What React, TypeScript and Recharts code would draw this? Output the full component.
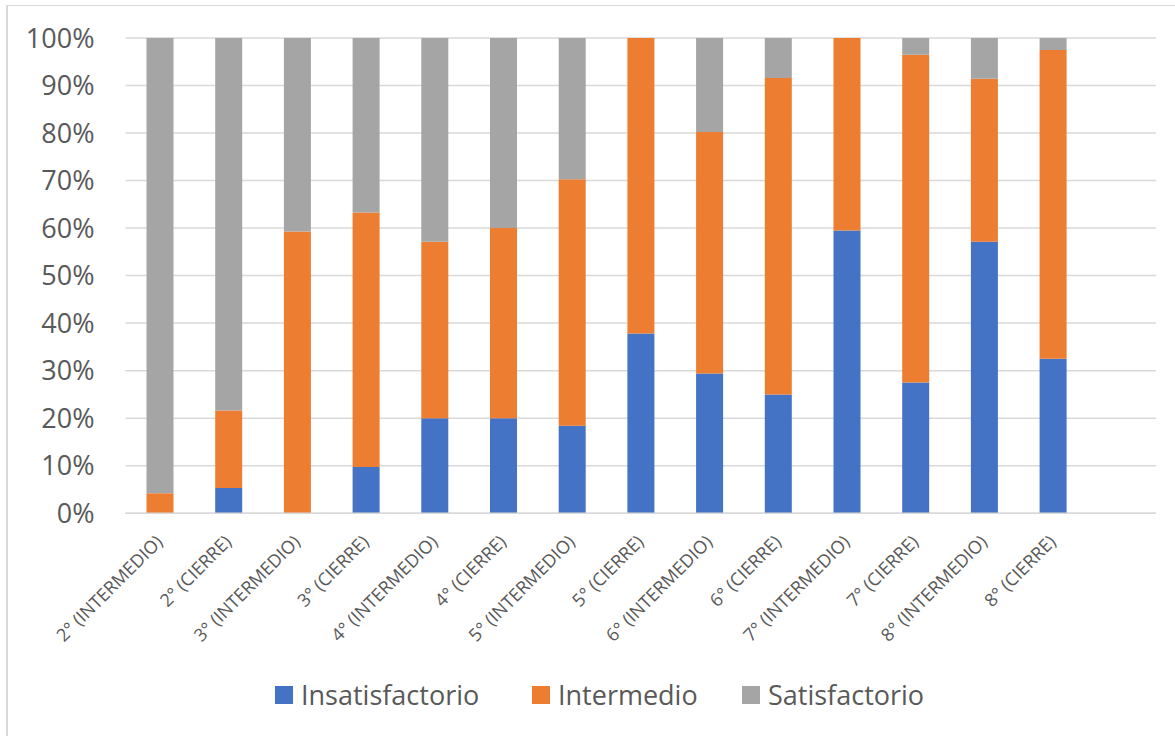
import { BarChart, Bar, XAxis, YAxis, CartesianGrid, Legend } from "recharts"

const categories = [
  "2° (INTERMEDIO)",
  "2° (CIERRE)",
  "3° (INTERMEDIO)",
  "3° (CIERRE)",
  "4° (INTERMEDIO)",
  "4° (CIERRE)",
  "5° (INTERMEDIO)",
  "5° (CIERRE)",
  "6° (INTERMEDIO)",
  "6° (CIERRE)",
  "7° (INTERMEDIO)",
  "7° (CIERRE)",
  "8° (INTERMEDIO)",
  "8° (CIERRE)",
  "",
]
const insatisfactorio = [0, 5.3, 0, 9.7, 20, 20, 18.4, 37.8, 29.4, 25, 59.5, 27.5, 57.1, 32.5, null]
const intermedio = [4.2, 16.3, 59.3, 53.6, 37.1, 40, 51.9, 62.2, 50.8, 66.6, 40.5, 69, 34.3, 65, null]
const satisfactorio = [95.8, 78.4, 40.7, 36.7, 42.9, 40, 29.7, 0, 19.8, 8.4, 0, 3.5, 8.6, 2.5, null]
const yTicks = [0, 10, 20, 30, 40, 50, 60, 70, 80, 90, 100]

const series = [
  { key: "insat", name: "Insatisfactorio", color: "#4472C4" },
  { key: "inter", name: "Intermedio", color: "#ED7D31" },
  { key: "sat", name: "Satisfactorio", color: "#A5A5A5" },
]

const data = categories.map((name, i) => ({
  name,
  insat: insatisfactorio[i],
  inter: intermedio[i],
  sat: satisfactorio[i],
}))

const FONT = "'Open Sans', sans-serif"
const TEXT = "#595959"

function CategoryTick(props: any) {
  const { x, payload } = props
  const tx = x + 4
  const ty = 543
  return (
    <text
      x={tx}
      y={ty}
      transform={`rotate(-45, ${tx}, ${ty})`}
      textAnchor="end"
      fontFamily={FONT}
      fontSize={18}
      fill={TEXT}
    >
      {payload.value}
    </text>
  )
}

const legendLeft = [275, 532, 742]

function renderLegend() {
  return (
    <div style={{ position: "relative", width: 700, height: 40 }}>
      {series.map((s, i) => (
        <div
          key={s.key}
          style={{
            position: "absolute",
            left: legendLeft[i] - 275,
            top: 0,
            display: "flex",
            alignItems: "center",
            height: 40,
          }}
        >
          <span style={{ width: 18, height: 18, background: s.color, display: "inline-block" }} />
          <span style={{ marginLeft: 8, fontFamily: FONT, fontSize: 27, color: TEXT, lineHeight: "40px" }}>
            {s.name}
          </span>
        </div>
      ))}
    </div>
  )
}

export default function App() {
  return (
    <div style={{ position: "absolute", top: 0, left: 0, width: 1175, height: 736, background: "#fff" }}>
      <div
        style={{
          position: "absolute",
          top: 5,
          left: 6,
          right: 0,
          bottom: 0,
          borderTop: "1px solid #d9d9d9",
          borderLeft: "2px solid #d9d9d9",
        }}
      />
      <BarChart
        width={1175}
        height={736}
        data={data}
        margin={{ top: 38, right: 19, left: 25.5, bottom: 42.8 }}
        style={{ position: "absolute", top: 0, left: 0 }}
      >
        <CartesianGrid vertical={false} stroke="#d9d9d9" strokeWidth={1.5} />
        <XAxis
          dataKey="name"
          interval={0}
          height={140}
          tickLine={false}
          axisLine={{ stroke: "#d9d9d9", strokeWidth: 1.5 }}
          tick={<CategoryTick />}
        />
        <YAxis
          width={100}
          domain={[0, 100]}
          ticks={yTicks}
          allowDataOverflow
          tickFormatter={(v) => `${v}%`}
          axisLine={false}
          tickLine={false}
          tickSize={0}
          tickMargin={31}
          tick={{ fontFamily: FONT, fontSize: 27, fill: TEXT }}
        />
        <Legend content={renderLegend} wrapperStyle={{ position: "absolute", top: 675, left: 275, width: 700 }} />
        {series.map((s) => (
          <Bar
            key={s.key}
            dataKey={s.key}
            name={s.name}
            stackId="a"
            fill={s.color}
            barSize={27}
            isAnimationActive={false}
          />
        ))}
      </BarChart>
    </div>
  )
}
